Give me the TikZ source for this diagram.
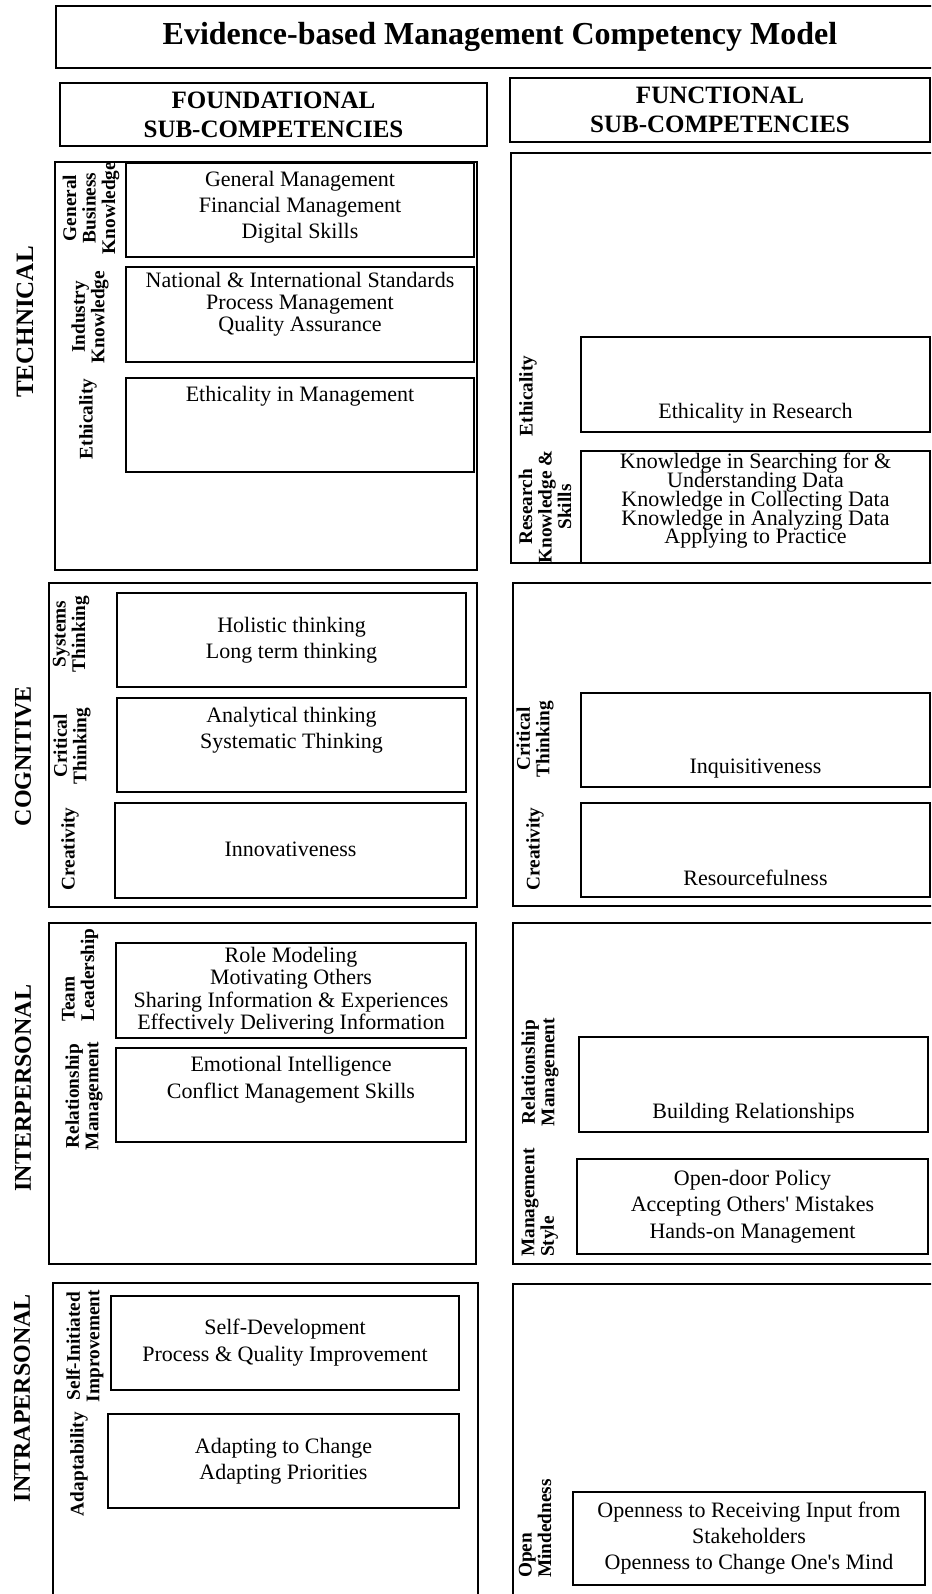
\documentclass[tikz,border=0pt]{standalone}
\usepackage{fontspec}
\setmainfont{Liberation Serif}
% lines may come closer than the glyph heights allow
\newcommand\tightlead{\lineskiplimit=-100pt\relax\lineskip=0pt\relax}
\begin{document}
\begin{tikzpicture}[x=1pt,y=-1pt,
  frame/.style={draw, line width=1.8pt},
  body/.style={font=\fontsize{22}{26}\selectfont, align=center, inner sep=0pt},
  lead/.style={font={\fontsize{22}{#1}\selectfont\tightlead}},
  lab/.style={font={\bfseries\fontsize{19.3}{19.5}\selectfont\tightlead}, rotate=90, align=center, inner sep=0pt},
  cat/.style={font=\bfseries\fontsize{24}{24}\selectfont, rotate=90, inner sep=0pt},
  head/.style={font=\bfseries\fontsize{25}{29}\selectfont, align=center, inner sep=0pt}]
\useasboundingbox (0,0) rectangle (931,1594);
\clip (0,0) rectangle (931,1594);
\fill[white] (0,0) rectangle (931,1594);

% ---------- headings ----------
\draw[frame] (56,6) rectangle (944,68);
\node[inner sep=0pt, font=\bfseries\fontsize{32}{32}\selectfont] (title) at (500,37)
  {Evidence-based Management Competency Model};
\draw[frame] (60,83) rectangle (487,146);
\node[head] (foundhead) at (273.5,115) {FOUNDATIONAL\\SUB-COMPETENCIES};
\draw[frame] (510,78) rectangle (930,142);
\node[head] (funchead) at (720,110) {FUNCTIONAL\\SUB-COMPETENCIES};

% ---------- technical ----------
\node[cat, font=\bfseries\fontsize{25}{25}\selectfont] (technical) at (25,322) {TECHNICAL};
\draw[frame] (55,162) rectangle (477,570);
\draw[frame] (126,163) rectangle (474,257);
\node[body] (gbk) at (300,207) {General Management\\Financial Management\\Digital Skills};
\node[lab] (gbklab) at (91,208) {General\\Business\\Knowledge};
\draw[frame] (126,267) rectangle (474,362);
\node[body, lead=22] (ik) at (300,304) {National \& International Standards\\Process Management\\Quality Assurance};
\node[lab] (iklab) at (90,317) {Industry\\Knowledge};
\draw[frame] (126,378) rectangle (474,472);
\node[body] (ethm) at (300,396) {Ethicality in Management};
\node[lab] (ethmlab) at (88,419) {Ethicality};

\draw[frame] (511,153) rectangle (936,563);
\draw[frame] (581,337) rectangle (930,432);
\node[body] (ethr) at (755.5,413) {Ethicality in Research};
\node[lab] (ethrlab) at (528,396) {Ethicality};
\draw[frame] (581,451) rectangle (930,563);
\node[body, lead=18.8] (rks) at (755.5,501) {Knowledge in Searching for \&\\Understanding Data\\Knowledge in Collecting Data\\Knowledge in Analyzing Data\\Applying to Practice};
\node[lab] (rkslab) at (545,507) {Research\\Knowledge \&\\Skills};

% ---------- cognitive ----------
\node[cat] (cognitive) at (23,756) {COGNITIVE};
\draw[frame] (49,583) rectangle (477,907);
\draw[frame] (117,593) rectangle (466,687);
\node[body] (syst) at (291.5,640) {Holistic thinking\\Long term thinking};
\node[lab] (systlab) at (71,634) {Systems\\Thinking};
\draw[frame] (117,698) rectangle (466,792);
\node[body] (crit) at (291.5,730) {Analytical thinking\\Systematic Thinking};
\node[lab] (critlab) at (72,746) {Critical\\Thinking};
\draw[frame] (115,803) rectangle (466,898);
\node[body] (innov) at (290.5,849) {Innovativeness};
\node[lab] (creatlab) at (70,849) {Creativity};

\draw[frame] (513,583) rectangle (936,906);
\draw[frame] (581,693) rectangle (930,787);
\node[body] (inq) at (755.5,769) {Inquisitiveness};
\node[lab] (fcritlab) at (535,739) {Critical\\Thinking};
\draw[frame] (581,803) rectangle (930,897);
\node[body] (resf) at (755.5,878) {Resourcefulness};
\node[lab] (fcreatlab) at (535,849) {Creativity};

% ---------- interpersonal ----------
\node[cat] (interpersonal) at (23,1088) {INTERPERSONAL};
\draw[frame] (49,923) rectangle (476,1264);
\draw[frame] (116,943) rectangle (466,1038);
\node[body, lead=22.5] (team) at (291,990.5) {Role Modeling\\Motivating Others\\Sharing Information \& Experiences\\Effectively Delivering Information};
\node[lab, align=left, anchor=west] (teamlab) at (80,1022) {Team\\Leadership};
\draw[frame] (116,1048) rectangle (466,1142);
\node[body, lead=27] (relm) at (291,1079.5) {Emotional Intelligence\\Conflict Management Skills};
\node[lab] (relmlab) at (84,1096) {Relationship\\Management};

\draw[frame] (513,923) rectangle (936,1264);
\draw[frame] (579,1037) rectangle (928,1132);
\node[body] (build) at (753.5,1113) {Building Relationships};
\node[lab] (frelmlab) at (540,1072) {Relationship\\Management};
\draw[frame] (577,1159) rectangle (928,1254);
\node[body, lead=26.5] (style) at (752.5,1206.5) {Open-door Policy\\Accepting Others\textquotesingle\ Mistakes\\Hands-on Management};
\node[lab, align=left, anchor=west] (stylelab) at (540,1257) {Management\\Style};

% ---------- intrapersonal ----------
\node[cat] (intrapersonal) at (22,1398) {INTRAPERSONAL};
\draw[frame] (53,1283) rectangle (478,1620);
\draw[frame] (111,1296) rectangle (459,1390);
\node[body, lead=27] (selfdev) at (285,1342.5) {Self-Development\\Process \& Quality Improvement};
\node[lab] (selflab) at (85,1346) {Self-Initiated\\Improvement};
\draw[frame] (108,1414) rectangle (459,1508);
\node[body] (adapt) at (283.5,1461) {Adapting to Change\\Adapting Priorities};
\node[lab] (adaptlab) at (79,1464) {Adaptability};

\draw[frame] (513,1284) rectangle (936,1620);
\draw[frame] (573,1492) rectangle (925,1585);
\node[body] (open) at (749,1538) {Openness to Receiving Input from\\Stakeholders\\Openness to Change One\textquotesingle s Mind};
\node[lab, align=left, anchor=west] (openlab) at (535,1578) {Open\\Mindedness};
\end{tikzpicture}
\end{document}
